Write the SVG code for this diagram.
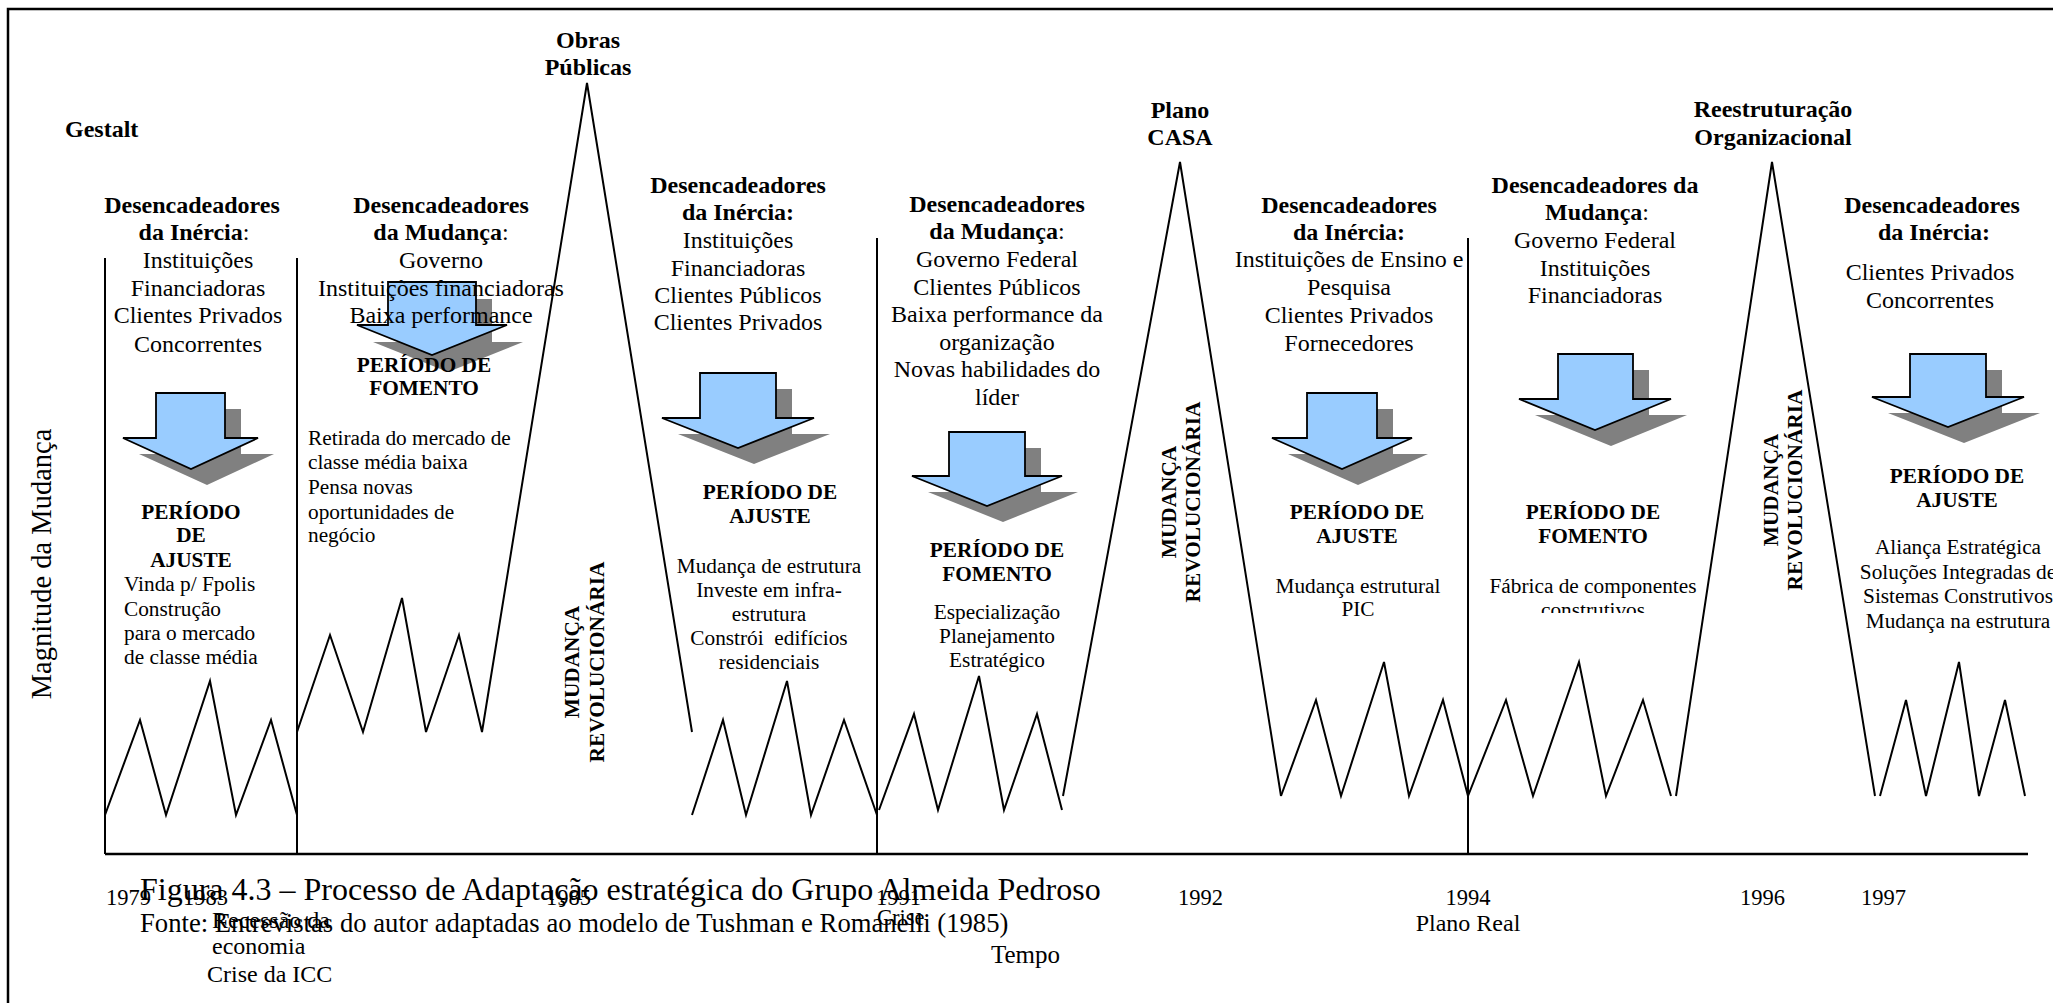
<svg xmlns="http://www.w3.org/2000/svg" width="2053" height="1003" viewBox="0 0 2053 1003">
<style>
text{font-family:"Liberation Serif","Times New Roman",serif;fill:#000}
.h{font-size:24px;font-weight:bold}
.t{font-size:24px}
.p{font-size:21.3px;font-weight:bold}
.s{font-size:21.3px}
.y{font-size:22.5px}
.m{text-anchor:middle}
.n{font-weight:normal}
.ln{fill:none;stroke:#000;stroke-width:2;stroke-linejoin:miter}
.ax{fill:none;stroke:#000;stroke-width:2.5}
.ar{fill:#99CCFF;stroke:#000;stroke-width:1.8;stroke-linejoin:miter}
.sh{fill:#808080}
</style>
<defs>
<clipPath id="clipC"><rect x="1470" y="596" width="250" height="17"/></clipPath>
</defs>
<rect x="8" y="9" width="2100" height="1100" fill="none" stroke="#000" stroke-width="2.5"/>

<g id="connectors">
<line class="ax" x1="105" y1="854" x2="2028" y2="854"/>
<line class="ln" x1="105" y1="258" x2="105" y2="854"/>
<line class="ln" x1="297" y1="258" x2="297" y2="854"/>
<line class="ln" x1="877" y1="238" x2="877" y2="854"/>
<line class="ln" x1="1468" y1="238" x2="1468" y2="854"/>
<polyline class="ln" points="105,815 140,720 166,815 210,681 236,815 271,720 297,815"/>
<polyline class="ln" points="297,732 330,635 363,732 402,598 426,732 459,635 482,732 587,83 692,732"/>
<polyline class="ln" points="692,815 723,720 746,815 787,681 811,815 844,720 877,815"/>
<polyline class="ln" points="879,810 914,714 938,810 979,676 1004,810 1037,714 1062,810"/>
<polyline class="ln" points="1063,796 1180,162 1281,796"/>
<polyline class="ln" points="1281,796 1316,700 1341,796 1384,662 1409,796 1443,700 1468,796"/>
<polyline class="ln" points="1468,796 1506,700 1533,796 1579,662 1606,796 1643,700 1671,796"/>
<polyline class="ln" points="1676,796 1772,162 1875,796"/>
<polyline class="ln" points="1880,796 1906,700 1926,796 1959,662 1979,796 2005,700 2025,796"/>
</g>

<g id="axis-labels">
<text class="t" x="65" y="137" style="font-weight:bold">Gestalt</text>
<text transform="rotate(-90 51 564)" x="51" y="564" class="m" style="font-size:28.5px">Magnitude da Mudança</text>
<text class="y" x="106" y="905">1979</text>
<text class="y" x="183" y="905">1983</text>
<text class="y" x="546" y="905">1985</text>
<text class="y" x="876" y="905">1991</text>
<text class="y" x="1178" y="905">1992</text>
<text class="y m" x="1468" y="905">1994</text>
<text class="y" x="1740" y="905">1996</text>
<text class="y" x="1861" y="905">1997</text>
<text class="t" x="212" y="928">Recessão da</text>
<text class="t" x="212" y="954">economia</text>
<text class="t" x="207" y="982">Crise da ICC</text>
<text class="y" x="877" y="925">Crise</text>
<text class="t m" x="1468" y="931">Plano Real</text>
<text x="991" y="963" style="font-size:25px">Tempo</text>
<text x="140" y="900" style="font-size:32px">Figura 4.3 – Processo de Adaptação estratégica do Grupo Almeida Pedroso</text>
<text x="140" y="932" style="font-size:26.67px">Fonte: Entrevistas do autor adaptadas ao modelo de Tushman e Romanelli (1985)</text>
</g>

<g id="peak-obras">
<text class="h m" x="588" y="48">Obras</text>
<text class="h m" x="588" y="75">Públicas</text>
<g transform="rotate(-90 579 662)"><text class="p m" x="579" y="662">MUDANÇA</text></g>
<g transform="rotate(-90 604 662)"><text class="p m" x="604" y="662">REVOLUCIONÁRIA</text></g>
</g>
<g id="peak-casa">
<text class="h m" x="1180" y="118">Plano</text>
<text class="h m" x="1180" y="145">CASA</text>
<g transform="rotate(-90 1176 502)"><text class="p m" x="1176" y="502">MUDANÇA</text></g>
<g transform="rotate(-90 1200 502)"><text class="p m" x="1200" y="502">REVOLUCIONÁRIA</text></g>
</g>
<g id="peak-reestruturacao">
<text class="h m" x="1773" y="117">Reestruturação</text>
<text class="h m" x="1773" y="145">Organizacional</text>
<g transform="rotate(-90 1778 490)"><text class="p m" x="1778" y="490">MUDANÇA</text></g>
<g transform="rotate(-90 1802 490)"><text class="p m" x="1802" y="490">REVOLUCIONÁRIA</text></g>
</g>

<g id="col1">
<polygon class="sh" points="172,409 241,409 241,454 274,454 207,485 139,454 172,454"/>
<polygon class="ar" points="156,393 225,393 225,438 258,438 191,469 123,438 156,438"/>
<text class="h m" x="192" y="213">Desencadeadores</text>
<text class="h m" x="194" y="240">da Inércia<tspan class="n">:</tspan></text>
<text class="t m" x="198" y="268">Instituições</text>
<text class="t m" x="198" y="296">Financiadoras</text>
<text class="t m" x="198" y="323">Clientes Privados</text>
<text class="t m" x="198" y="352">Concorrentes</text>
<text class="p m" x="191" y="519">PERÍODO</text>
<text class="p m" x="191" y="542">DE</text>
<text class="p m" x="191" y="567">AJUSTE</text>
<text class="s" x="124" y="591">Vinda p/ Fpolis</text>
<text class="s" x="124" y="616">Construção</text>
<text class="s" x="124" y="640">para o mercado</text>
<text class="s" x="124" y="664">de classe média</text>
</g>

<g id="col2">
<polygon class="sh" points="404,299 492,299 492,342 523,342 448,372 373,342 404,342"/>
<polygon class="ar" points="388,282 476,282 476,325 507,325 432,355 357,325 388,325"/>
<text class="h m" x="441" y="213">Desencadeadores</text>
<text class="h m" x="441" y="240">da Mudança<tspan class="n">:</tspan></text>
<text class="t m" x="441" y="268">Governo</text>
<text class="t m" x="441" y="296">Instituições financiadoras</text>
<text class="t m" x="441" y="323">Baixa performance</text>
<text class="p m" x="424" y="372">PERÍODO DE</text>
<text class="p m" x="424" y="395">FOMENTO</text>
<text class="s" x="308" y="445">Retirada do mercado de</text>
<text class="s" x="308" y="469">classe média baixa</text>
<text class="s" x="308" y="494">Pensa novas</text>
<text class="s" x="308" y="519">oportunidades de</text>
<text class="s" x="308" y="542">negócio</text>
</g>

<g id="col3">
<polygon class="sh" points="716,389 792,389 792,434 830,434 754,464 678,434 716,434"/>
<polygon class="ar" points="700,373 776,373 776,418 814,418 738,448 662,418 700,418"/>
<text class="h m" x="738" y="193">Desencadeadores</text>
<text class="h m" x="738" y="220">da Inércia:</text>
<text class="t m" x="738" y="248">Instituições</text>
<text class="t m" x="738" y="276">Financiadoras</text>
<text class="t m" x="738" y="303">Clientes Públicos</text>
<text class="t m" x="738" y="330">Clientes Privados</text>
<text class="p m" x="770" y="499">PERÍODO DE</text>
<text class="p m" x="770" y="523">AJUSTE</text>
<text class="s m" x="769" y="573">Mudança de estrutura</text>
<text class="s m" x="769" y="597">Investe em infra-</text>
<text class="s m" x="769" y="621">estrutura</text>
<text class="s m" x="769" y="645" style="white-space:pre">Constrói  edifícios</text>
<text class="s m" x="769" y="669">residenciais</text>
</g>

<g id="col4">
<polygon class="sh" points="965,448 1041,448 1041,492 1078,492 1003,522 928,492 965,492"/>
<polygon class="ar" points="949,432 1025,432 1025,476 1062,476 987,506 912,476 949,476"/>
<text class="h m" x="997" y="212">Desencadeadores</text>
<text class="h m" x="997" y="239">da Mudança<tspan class="n">:</tspan></text>
<text class="t m" x="997" y="267">Governo Federal</text>
<text class="t m" x="997" y="295">Clientes Públicos</text>
<text class="t m" x="997" y="322">Baixa performance da</text>
<text class="t m" x="997" y="350">organização</text>
<text class="t m" x="997" y="377">Novas habilidades do</text>
<text class="t m" x="997" y="405">líder</text>
<text class="p m" x="997" y="557">PERÍODO DE</text>
<text class="p m" x="997" y="581">FOMENTO</text>
<text class="s m" x="997" y="619">Especialização</text>
<text class="s m" x="997" y="643">Planejamento</text>
<text class="s m" x="997" y="667">Estratégico</text>
</g>

<g id="col5">
<polygon class="sh" points="1323,409 1393,409 1393,454 1428,454 1358,485 1288,454 1323,454"/>
<polygon class="ar" points="1307,393 1377,393 1377,438 1412,438 1342,469 1272,438 1307,438"/>
<text class="h m" x="1349" y="213">Desencadeadores</text>
<text class="h m" x="1349" y="240">da Inércia:</text>
<text class="t m" x="1349" y="267">Instituições de Ensino e</text>
<text class="t m" x="1349" y="295">Pesquisa</text>
<text class="t m" x="1349" y="323">Clientes Privados</text>
<text class="t m" x="1349" y="351">Fornecedores</text>
<text class="p m" x="1357" y="519">PERÍODO DE</text>
<text class="p m" x="1357" y="543">AJUSTE</text>
<text class="s m" x="1358" y="593">Mudança estrutural</text>
<text class="s m" x="1358" y="616">PIC</text>
</g>

<g id="col6">
<polygon class="sh" points="1574,370 1649,370 1649,415 1687,415 1611,446 1535,415 1574,415"/>
<polygon class="ar" points="1558,354 1633,354 1633,399 1671,399 1595,430 1519,399 1558,399"/>
<text class="h m" x="1595" y="193">Desencadeadores da</text>
<text class="h m" x="1597" y="220">Mudança<tspan class="n">:</tspan></text>
<text class="t m" x="1595" y="248">Governo Federal</text>
<text class="t m" x="1595" y="276">Instituições</text>
<text class="t m" x="1595" y="303">Financiadoras</text>
<text class="p m" x="1593" y="519">PERÍODO DE</text>
<text class="p m" x="1593" y="543">FOMENTO</text>
<text class="s m" x="1593" y="593">Fábrica de componentes</text>
<text class="s m" x="1593" y="617" clip-path="url(#clipC)">construtivos</text>
</g>

<g id="col7">
<polygon class="sh" points="1926,370 2002,370 2002,413 2040,413 1964,443 1888,413 1926,413"/>
<polygon class="ar" points="1910,354 1986,354 1986,397 2024,397 1948,427 1872,397 1910,397"/>
<text class="h m" x="1932" y="213">Desencadeadores</text>
<text class="h m" x="1934" y="240">da Inércia:</text>
<text class="t m" x="1930" y="280">Clientes Privados</text>
<text class="t m" x="1930" y="308">Concorrentes</text>
<text class="p m" x="1957" y="483">PERÍODO DE</text>
<text class="p m" x="1957" y="507">AJUSTE</text>
<text class="s m" x="1958" y="554">Aliança Estratégica</text>
<text class="s m" x="1958" y="579">Soluções Integradas de</text>
<text class="s m" x="1958" y="603">Sistemas Construtivos</text>
<text class="s m" x="1958" y="628">Mudança na estrutura</text>
</g>
</svg>
